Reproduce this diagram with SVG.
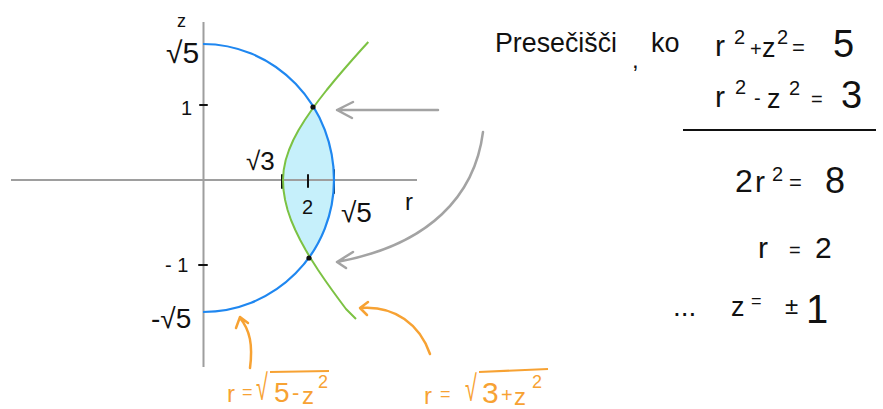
<svg xmlns="http://www.w3.org/2000/svg" width="883" height="409" viewBox="0 0 883 409">
<style>
.ax{stroke:#9e9e9e;stroke-width:2;fill:none}
.ga{stroke:#a3a3a3;stroke-width:2.5;fill:none;stroke-linecap:round;stroke-linejoin:round}
.oa{stroke:#f7a233;stroke-width:2.5;fill:none;stroke-linecap:round;stroke-linejoin:round}
.tk{stroke:#111;stroke-width:2;stroke-linecap:round}
.k{font-family:"Liberation Sans","DejaVu Sans",sans-serif;fill:#111}
.o{font-family:"Liberation Sans","DejaVu Sans",sans-serif;fill:#f7a233}
</style>
<rect width="883" height="409" fill="#fff"/>
<g id="lens">
<path d="M313,107 L304.8,120 L298.6,130 L293.3,140 L289,150 L285.7,160 L283.7,170 L283,180 L283.5,190 L285.1,200 L287.6,210 L291,220 L295.3,230 L300.2,240 L305.7,250 L310,258 A131,132 0 0 0 334,180 A131,136 0 0 0 313,107 Z" fill="#c6f0fb"/>
</g>
<g id="axes">
<line class="ax" x1="11" y1="180" x2="417" y2="180"/>
<line class="ax" x1="203.5" y1="22" x2="203.5" y2="367"/>
<line class="tk" x1="200" y1="105" x2="207" y2="105"/>
<line class="tk" x1="199" y1="265" x2="207" y2="265"/>
<line class="tk" x1="282" y1="175" x2="282" y2="188"/>
<line class="tk" x1="308" y1="175" x2="308" y2="187"/>
<line class="tk" x1="334" y1="170" x2="334" y2="193" stroke-width="2.5"/>
</g>
<g id="circle">
<path d="M203,44 A131,136 0 0 1 334,180 A131,132 0 0 1 203,312" fill="none" stroke="#1f87f0" stroke-width="2.2"/>
</g>
<g id="hyperbola">
<path d="M368.3,42 L361,50 L352.1,60 L343.4,70 L334.9,80 L326.7,90 L318.9,100 L313,108 L304.8,120 L298.6,130 L293.3,140 L289,150 L285.7,160 L283.7,170 L283,180 L283.5,190 L285.1,200 L287.6,210 L291,220 L295.3,230 L300.2,240 L305.7,250 L310.4,258 L318.1,270 L324.9,280 L332,290 L339.3,300 L346,309 L356,319" fill="none" stroke="#7cc243" stroke-width="2" stroke-linejoin="round"/>
</g>
<g id="points">
<circle cx="313" cy="107" r="2.6" fill="#111"/>
<circle cx="309" cy="258" r="2.6" fill="#111"/>
</g>
<g id="connectors">
<path class="ga" d="M438,110 L337,110 M353,102 L337,110 L352,118"/>
<path class="ga" d="M483,132 C475,195 430,245 337,262 M353,252 L337,262 L346,268"/>
<path class="oa" d="M250,368 C253,345 250,330 240,318 M236,328 L240,317 L248,323"/>
<path class="oa" d="M430,354 C420,325 395,305 360,308 M368,302 L360,308 L367,315"/>
</g>
<g id="axis-labels">
<text class="k" x="177" y="27" font-size="18">z</text>
<text class="k" x="166" y="63" font-size="30">√5</text>
<text class="k" x="181" y="115" font-size="20">1</text>
<text class="k" x="246" y="170" font-size="26">√3</text>
<text class="k" x="302" y="214" font-size="20">2</text>
<text class="k" x="341" y="222" font-size="28">√5</text>
<text class="k" x="405" y="210" font-size="24">r</text>
<text class="k" x="165" y="272" font-size="20">- 1</text>
<text class="k" x="151" y="328" font-size="28">-√5</text>
</g>
<g id="label-circle">
<text class="o" x="227" y="402" font-size="24">r</text>
<text class="o" x="242" y="398" font-size="18">=</text>
<text class="o" transform="translate(256,400) scale(0.6,1)" font-size="36">√</text>
<line x1="270" y1="372" x2="329" y2="371" stroke="#f7a233" stroke-width="2.2"/>
<text class="o" x="274" y="402" font-size="28">5</text>
<text class="o" x="292" y="400" font-size="22">-</text>
<text class="o" x="302" y="404" font-size="24">z</text>
<text class="o" x="318" y="388" font-size="18">2</text>
</g>
<g id="label-hyperbola">
<text class="o" x="424" y="404" font-size="24">r</text>
<text class="o" x="440" y="400" font-size="18">=</text>
<text class="o" transform="translate(465,401) scale(0.6,1)" font-size="36">√</text>
<line x1="479" y1="372" x2="548" y2="369" stroke="#f7a233" stroke-width="2.2"/>
<text class="o" x="482" y="403" font-size="30">3</text>
<text class="o" x="501" y="402" font-size="20">+</text>
<text class="o" x="514" y="405" font-size="24">z</text>
<text class="o" x="532" y="388" font-size="18">2</text>
</g>
<g id="derivation">
<text class="k" x="495" y="52" font-size="28" textLength="122" lengthAdjust="spacingAndGlyphs">Presečišči</text>
<text class="k" x="632" y="68" font-size="24">,</text>
<text class="k" x="651" y="52" font-size="27">ko</text>
<text class="k" font-size="30"><tspan x="715" y="56">r</tspan><tspan x="734" y="44" font-size="20">2</tspan><tspan x="750" y="56" font-size="20">+</tspan><tspan x="762" y="57" font-size="27">z</tspan><tspan x="777" y="44" font-size="20">2</tspan><tspan x="792" y="55" font-size="22">=</tspan><tspan x="833" y="57" font-size="38">5</tspan></text>
<text class="k" font-size="30"><tspan x="715" y="107">r</tspan><tspan x="735" y="94" font-size="20">2</tspan><tspan x="754" y="105" font-size="20">-</tspan><tspan x="767" y="108" font-size="27">z</tspan><tspan x="789" y="95" font-size="20">2</tspan><tspan x="811" y="106" font-size="20">=</tspan><tspan x="841" y="108" font-size="38">3</tspan></text>
<line x1="683" y1="130" x2="876" y2="130" stroke="#111" stroke-width="2"/>
<text class="k" font-size="30"><tspan x="735" y="192" font-size="32">2</tspan><tspan x="755" y="192">r</tspan><tspan x="772" y="181" font-size="20">2</tspan><tspan x="789" y="190" font-size="22">=</tspan><tspan x="825" y="193" font-size="36">8</tspan></text>
<text class="k" font-size="30"><tspan x="758" y="258">r</tspan><tspan x="789" y="257" font-size="20">=</tspan><tspan x="815" y="258" font-size="30">2</tspan></text>
<text class="k" font-size="27"><tspan x="673" y="316" font-size="28">...</tspan><tspan x="731" y="316">z</tspan><tspan x="751" y="307" font-size="18">=</tspan><tspan x="785" y="314" font-size="24">±</tspan><tspan x="806" y="323" font-size="40">1</tspan></text>
</g>
</svg>
